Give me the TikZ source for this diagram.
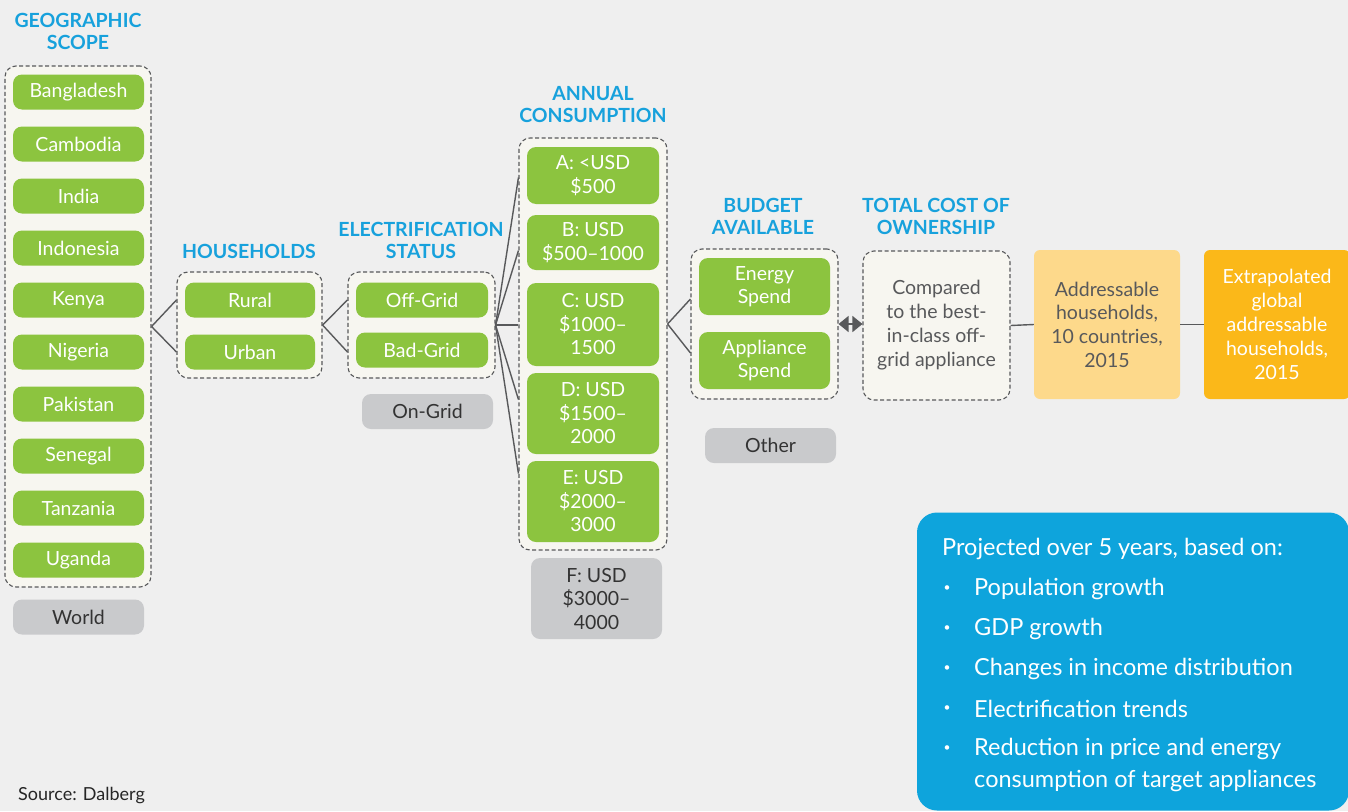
\documentclass[tikz,border=0pt]{standalone}
\usepackage{fontspec}
\setmainfont{Lato}
\usetikzlibrary{arrows.meta,calc}
\definecolor{bgc}{HTML}{EFEFEF}
\definecolor{leaf}{HTML}{8CC43F}
\definecolor{head}{HTML}{17A1DC}
\definecolor{bluebox}{HTML}{0EA4DC}
\definecolor{greypill}{HTML}{C9CACC}
\definecolor{contfill}{HTML}{F7F6F0}
\definecolor{lineg}{HTML}{58595B}
\definecolor{txtg}{HTML}{58595B}
\definecolor{lorange}{HTML}{FDD98B}
\definecolor{dorange}{HTML}{FBB819}
\begin{document}
\begin{tikzpicture}[x=1pt,y=-1pt,
  base/.style={inner sep=0pt, align=center, font=\fontsize{19.5}{23.5}\selectfont},
  pill/.style={base, fill=leaf, rounded corners=9pt, text=white, minimum width=131pt, minimum height=35pt},
  gpill/.style={base, fill=greypill, rounded corners=9pt, text=black!80, minimum width=131pt, minimum height=35pt},
  cont/.style={draw=lineg, line width=1.1pt, dash pattern=on 4pt off 2.5pt, fill=contfill, rounded corners=11pt, inner sep=0pt},
  heading/.style={inner sep=0pt, align=center, text=head, font=\bfseries\fontsize{19.5}{22}\selectfont},
  conn/.style={draw=lineg, line width=1.4pt},
  bl/.style={inner sep=0pt, anchor=west, text=white, font=\fontsize{23.5}{26}\selectfont}
]
\fill[bgc] (0,0) rectangle (1348,811);
\useasboundingbox (0,0) rectangle (1348,811);

% Geographic scope
\node[heading] (hgeo) at (78,31.5) {GEOGRAPHIC\\SCOPE};
\node[cont, minimum width=146pt, minimum height=521pt] (geo) at (78,326.5) {};
\foreach \n/\t [count=\i from 0] in {g1/Bangladesh,g2/Cambodia,g3/India,g4/Indonesia,g5/Kenya,g6/Nigeria,g7/Pakistan,g8/Senegal,g9/Tanzania,g10/Uganda}
  \node[pill] (\n) at (78.5,{92+52*\i}) {\t};
\node[gpill] (world) at (78.5,617) {World};

% Households
\node[heading] (hhh) at (249,251) {HOUSEHOLDS};
\node[cont, minimum width=145pt, minimum height=106pt] (hh) at (249.5,325) {};
\node[pill, minimum width=130pt] (rural) at (250,300) {Rural};
\node[pill, minimum width=130pt] (urban) at (250,352) {Urban};

% Electrification status
\node[heading] (hes) at (421,240) {ELECTRIFICATION\\STATUS};
\node[cont, minimum width=147pt, minimum height=106pt] (es) at (421.5,325) {};
\node[pill, minimum width=132pt] (offgrid) at (422,300) {Off-Grid};
\node[pill, minimum width=132pt] (badgrid) at (422,350) {Bad-Grid};
\node[gpill] (ongrid) at (427.5,411.5) {On-Grid};

% Annual consumption
\node[heading] (hac) at (593,105) {ANNUAL\\CONSUMPTION};
\node[cont, minimum width=148pt, minimum height=412pt] (cons) at (593,344) {};
\node[pill, minimum width=132pt, minimum height=57pt] (ca) at (593,175.5) {A: <USD\\\$500};
\node[pill, minimum width=132pt, minimum height=55pt] (cb) at (593,242.5) {B: USD\\\$500--1000};
\node[pill, minimum width=132pt, minimum height=83pt] (cc) at (593,324.5) {C: USD\\\$1000--\\1500};
\node[pill, minimum width=132pt, minimum height=81pt] (cd) at (593,413.5) {D: USD\\\$1500--\\2000};
\node[pill, minimum width=132pt, minimum height=81pt] (ce) at (593,501.5) {E: USD\\\$2000--\\3000};
\node[gpill, minimum width=131pt, minimum height=81pt] (cf) at (596.5,598.5) {F: USD\\\$3000--\\4000};

% Budget available
\node[heading] (hba) at (763,216) {BUDGET\\AVAILABLE};
\node[cont, minimum width=147pt, minimum height=150pt] (bud) at (764.5,324) {};
\node[pill, minimum width=131pt, minimum height=57pt] (energy) at (764.5,286.5) {Energy\\Spend};
\node[pill, minimum width=131pt, minimum height=57pt] (appl) at (764.5,360.5) {Appliance\\Spend};
\node[gpill] (other) at (770.5,445.5) {Other};

% Total cost of ownership
\node[heading] (htco) at (936,216) {TOTAL COST OF\\OWNERSHIP};
\node[cont, minimum width=147pt, minimum height=149pt, text=txtg, font=\fontsize{19.5}{24}\selectfont, align=center] (tco) at (936.5,325.5) {Compared\\to the best-\\in-class off-\\grid appliance};

% Addressable
\node[base, fill=lorange, rounded corners=6pt, minimum width=146pt, minimum height=149pt, text=txtg, font=\fontsize{19.5}{23.7}\selectfont] (addr) at (1107,324.5) {Addressable\\households,\\10 countries,\\2015};
\node[base, fill=dorange, rounded corners=6pt, minimum width=146pt, minimum height=149pt, text=white, font=\fontsize{19.5}{24}\selectfont] (extra) at (1277,324.5) {Extrapolated\\global\\addressable\\households,\\2015};

% connectors
\draw[conn] (geo.east) -- (hh.west |- rural);
\draw[conn] (geo.east) -- (hh.west |- urban);
\draw[conn] (hh.east) -- (es.west |- rural);
\draw[conn] (hh.east) -- (es.west |- urban);
\draw[conn] (es.east) -- ($(cons.west |- ca)+(0,2)$);
\draw[conn] (es.east) -- ($(cons.west |- cb)+(0,8)$);
\draw[conn] (es.east) -- (cons.west |- es.east);
\draw[conn] (es.east) -- ($(cons.west |- cd)+(0,-14)$);
\draw[conn] (es.east) -- ($(cons.west |- ce)+(0,-28)$);
\draw[conn] (cons.east |- bud.west) -- ($(bud.west)+(0,-25)$);
\draw[conn] (cons.east |- bud.west) -- ($(bud.west)+(0,29)$);
\draw[conn, {Triangle[width=16pt,length=10pt]}-{Triangle[width=16pt,length=10pt]}, fill=lineg] (bud.east) -- (tco.west |- bud.east);
\draw[conn] (tco.east) -- (addr.west);
\draw[conn] (addr.east) -- (extra.west);

% Blue box
\node[fill=bluebox, rounded corners=20pt, minimum width=432pt, minimum height=298pt, inner sep=0pt] (proj) at (1133,661.5) {};
\node[bl] (p0) at (942,549) {Projected over 5 years, based on:};
\foreach \n/\t/\y in {p1/Population growth/589, p2/GDP growth/629, p3/Changes in income distribution/669, p4/Electrification trends/709, p5/Reduction in price and energy/749}{
  \node[bl] (\n) at (974,\y) {\t};
  \node[inner sep=0pt, text=white, font=\fontsize{12}{12}\selectfont] (\n b) at (947,\y) {•};
}
\node[bl] (p6) at (974,781) {consumption of target appliances};

\node[inner sep=0pt, anchor=west, text=black!85, font=\fontsize{18}{20}\selectfont] (src) at (18,796) {Source: Dalberg};
\end{tikzpicture}
\end{document}
